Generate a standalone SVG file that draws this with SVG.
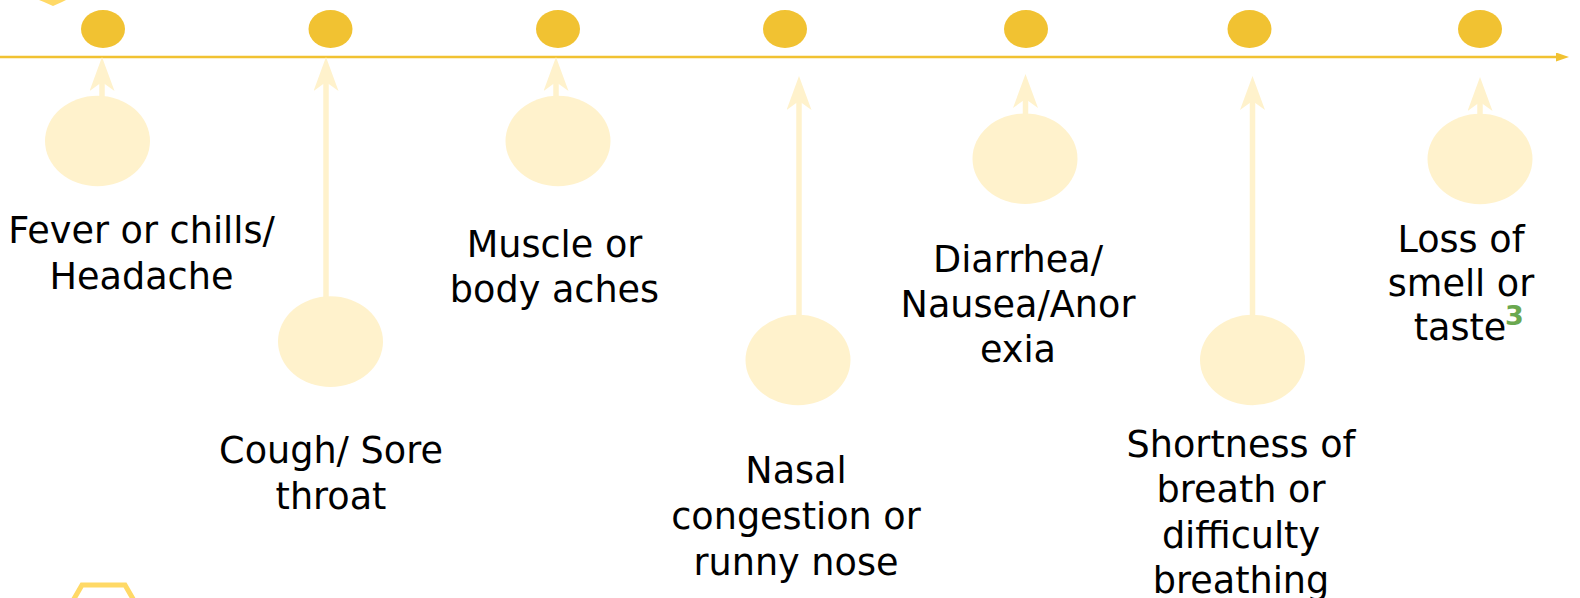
<svg xmlns="http://www.w3.org/2000/svg" width="1580" height="598" viewBox="0 0 1580 598">
  <style>
    .dot { fill: #f1c232; }
    .bubble { fill: #fff2cc; }
    .conn { stroke: #fff2cc; stroke-width: 5.5; fill: none; }
    .axis { stroke: #f1c232; stroke-width: 2.4; fill: none; }
    .lbl { font-family: "DejaVu Sans", "Liberation Sans", sans-serif; font-size: 36.6px; fill: #000; text-anchor: middle; }
    .sup { font-family: "DejaVu Sans", "Liberation Sans", sans-serif; font-weight: bold; fill: #6aa84f; font-size: 27px; }
    .hex { fill: none; stroke: #ffd966; stroke-width: 5; }
  </style>
  <defs>
    <marker id="stealth" viewBox="0 0 34 25" refX="9" refY="12.5" markerWidth="34" markerHeight="25" markerUnits="userSpaceOnUse" orient="auto">
      <path d="M0,0 L34,12.5 L0,25 L9,12.5 Z" fill="#fff2cc"/>
    </marker>
    <marker id="axisHead" viewBox="0 0 13 9" refX="2" refY="4.5" markerWidth="13" markerHeight="9" markerUnits="userSpaceOnUse" orient="auto">
      <path d="M0,0 L13,4.5 L0,9 Z" fill="#f1c232"/>
    </marker>
  </defs>
  <rect width="1580" height="598" fill="#ffffff"/>

  <g id="decor">
    <polygon points="39,0 66,0 62,2 53,6 44,2" fill="#ffd966"/>
    <polygon class="hex" points="125,585 146.5,622.2 125,659.4 82,659.4 60.5,622.2 82,585"/>
  </g>

  <g id="timeline">
    <line class="axis" x1="0" y1="57" x2="1558" y2="57" marker-end="url(#axisHead)"/>
  </g>

  <g id="connectors">
    <line class="conn" x1="102" y1="100" x2="102" y2="82" marker-end="url(#stealth)"/>
    <line class="conn" x1="326" y1="300" x2="326" y2="82" marker-end="url(#stealth)"/>
    <line class="conn" x1="556" y1="100" x2="556" y2="82" marker-end="url(#stealth)"/>
    <line class="conn" x1="799" y1="320" x2="799" y2="101" marker-end="url(#stealth)"/>
    <line class="conn" x1="1025.5" y1="117" x2="1025.5" y2="99" marker-end="url(#stealth)"/>
    <line class="conn" x1="1252.5" y1="320" x2="1252.5" y2="101" marker-end="url(#stealth)"/>
    <line class="conn" x1="1480" y1="118" x2="1480" y2="102" marker-end="url(#stealth)"/>
  </g>

  <g id="node-fever">
    <ellipse class="dot" cx="103" cy="29" rx="22" ry="19"/>
    <ellipse class="bubble" cx="97.5" cy="141" rx="52.5" ry="45.3"/>
    <text class="lbl"><tspan x="141.5" y="243">Fever or chills/</tspan><tspan x="141.5" y="288.5">Headache</tspan></text>
  </g>

  <g id="node-cough">
    <ellipse class="dot" cx="330.5" cy="29" rx="22" ry="19"/>
    <ellipse class="bubble" cx="330.5" cy="341.6" rx="52.5" ry="45.3"/>
    <text class="lbl"><tspan x="331" y="463">Cough/ Sore</tspan><tspan x="331" y="509">throat</tspan></text>
  </g>

  <g id="node-muscle">
    <ellipse class="dot" cx="558" cy="29" rx="22" ry="19"/>
    <ellipse class="bubble" cx="558" cy="141" rx="52.5" ry="45.3"/>
    <text class="lbl"><tspan x="554.5" y="256.5">Muscle or</tspan><tspan x="554.5" y="301.5">body aches</tspan></text>
  </g>

  <g id="node-nasal">
    <ellipse class="dot" cx="785" cy="29" rx="22" ry="19"/>
    <ellipse class="bubble" cx="798" cy="360" rx="52.5" ry="45.3"/>
    <text class="lbl"><tspan x="796" y="482.5">Nasal</tspan><tspan x="796" y="528.5">congestion or</tspan><tspan x="796" y="574.5">runny nose</tspan></text>
  </g>

  <g id="node-diarrhea">
    <ellipse class="dot" cx="1026" cy="29" rx="22" ry="19"/>
    <ellipse class="bubble" cx="1025" cy="158.7" rx="52.5" ry="45.3"/>
    <text class="lbl"><tspan x="1018" y="271.5">Diarrhea/</tspan><tspan x="1018" y="316.5">Nausea/Anor</tspan><tspan x="1018" y="361.5">exia</tspan></text>
  </g>

  <g id="node-breath">
    <ellipse class="dot" cx="1249.5" cy="29" rx="22" ry="19"/>
    <ellipse class="bubble" cx="1252.5" cy="360" rx="52.5" ry="45.3"/>
    <text class="lbl"><tspan x="1241" y="456.5">Shortness of</tspan><tspan x="1241" y="502">breath or</tspan><tspan x="1241" y="547.5">difficulty</tspan><tspan x="1241" y="593">breathing</tspan></text>
  </g>

  <g id="node-smell">
    <ellipse class="dot" cx="1480" cy="29" rx="22" ry="19"/>
    <ellipse class="bubble" cx="1480" cy="159" rx="52.5" ry="45.3"/>
    <text class="lbl"><tspan x="1461" y="251.5">Loss of</tspan><tspan x="1461" y="296">smell or</tspan><tspan x="1460" y="340">taste</tspan></text>
    <text class="sup" x="1505" y="325">3</text>
  </g>
</svg>
